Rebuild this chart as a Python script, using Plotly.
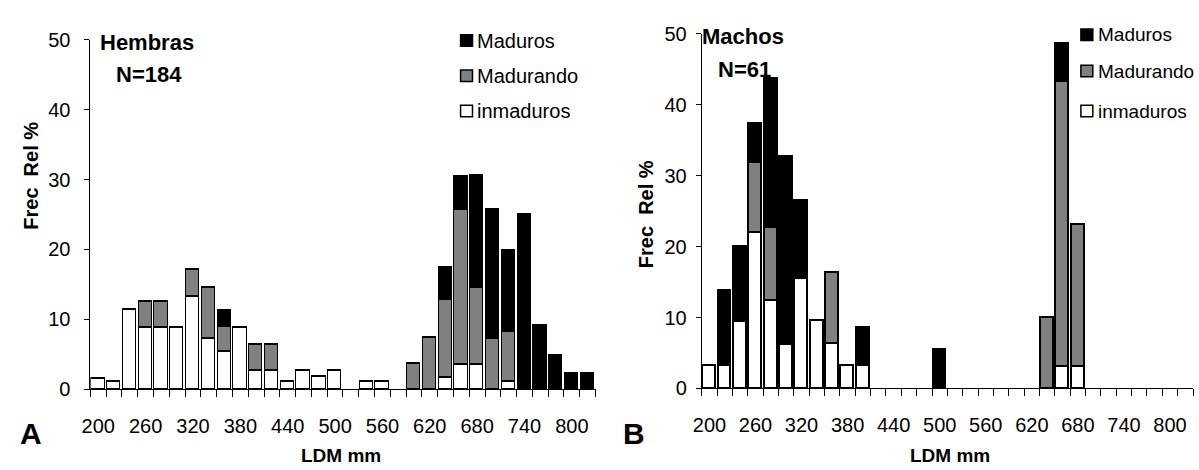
import plotly.graph_objects as go

# ---- data -------------------------------------------------------------
ldm_bins = [200, 220, 240, 260, 280, 300, 320, 340, 360, 380, 400, 420, 440, 460, 480, 500,
            520, 540, 560, 580, 600, 620, 640, 660, 680, 700, 720, 740, 760, 780, 800, 820]
tick_labels = [200, 260, 320, 380, 440, 500, 560, 620, 680, 740, 800]

# Hembras (N=184)
hem_inmaduros = [1.6, 1.1, 11.4, 8.9, 8.9, 8.9, 13.2, 7.2, 5.4, 8.9, 2.7, 2.7, 1.1, 2.7, 1.8, 2.7,
                 0, 1.1, 1.1, 0, 0, 0, 1.7, 3.6, 3.6, 0, 1.1, 0, 0, 0, 0, 0]
hem_madurando = [0, 0, 0, 3.6, 3.6, 0, 3.9, 7.3, 3.6, 0, 3.7, 3.7, 0, 0, 0, 0,
                 0, 0, 0, 0, 3.7, 7.4, 11.2, 22.1, 10.9, 7.2, 7.1, 0, 0, 0, 0, 0]
hem_maduros = [0, 0, 0, 0, 0, 0, 0, 0, 2.3, 0, 0, 0, 0, 0, 0, 0,
               0, 0, 0, 0, 0, 0, 4.5, 4.7, 16.1, 18.5, 11.7, 25.0, 9.1, 4.8, 2.3, 2.3]

# Machos (N=61)
mac_inmaduros = [3.2, 3.2, 9.4, 21.9, 12.4, 6.2, 15.5, 9.5, 6.3, 3.2, 3.2, 0, 0, 0, 0, 0,
                 0, 0, 0, 0, 0, 0, 0, 3.1, 3.1, 0, 0, 0, 0, 0, 0, 0]
mac_madurando = [0, 0, 0, 9.9, 10.2, 0, 0, 0, 10.0, 0, 0, 0, 0, 0, 0, 0,
                 0, 0, 0, 0, 0, 0, 10.0, 40.2, 20.0, 0, 0, 0, 0, 0, 0, 0]
mac_maduros = [0, 10.5, 10.6, 5.5, 21.1, 26.5, 10.9, 0, 0, 0, 5.3, 0, 0, 0, 0, 5.4,
               0, 0, 0, 0, 0, 0, 0, 5.3, 0, 0, 0, 0, 0, 0, 0, 0]

series_names = ["inmaduros", "Madurando", "Maduros"]
series_colors = ["#ffffff", "#808080", "#000000"]

W, H = 1199, 470
FONT = "Liberation Sans, Arial, sans-serif"


def px(x):
    return x / W


def py(y):
    return 1 - y / H


def nz(vals):
    return [v if v else None for v in vals]


fig = go.Figure()

panels = [
    ("x", "y", [hem_inmaduros, hem_madurando, hem_maduros]),
    ("x2", "y2", [mac_inmaduros, mac_madurando, mac_maduros]),
]
for xa, ya, data in panels:
    for name, color, vals in zip(series_names, series_colors, data):
        fig.add_trace(go.Bar(
            x=ldm_bins, y=nz(vals), name=name, xaxis=xa, yaxis=ya,
            width=16.8, marker=dict(color=color, line=dict(color="black", width=1.5)),
            showlegend=False, hoverinfo="skip",
        ))

bounds = [ldm_bins[0] - 10 + 20 * k for k in range(len(ldm_bins) + 1)]

xcommon = dict(
    range=[bounds[0], bounds[-1]], showline=True, linecolor="black", linewidth=1,
    tickmode="array", tickvals=tick_labels, ticktext=[str(t) for t in tick_labels],
    ticks="", ticklabelstandoff=19, showgrid=False, zeroline=False,
    tickfont=dict(family=FONT, size=20, color="black"),
    minor=dict(tickmode="array", tickvals=bounds, ticks="outside", ticklen=7,
               tickcolor="black", tickwidth=1, showgrid=False),
)
ycommon = dict(
    range=[0, 50], showline=True, linecolor="black", linewidth=1,
    tickmode="array", tickvals=[0, 10, 20, 30, 40, 50],
    ticks="outside", ticklen=5, tickcolor="black", showgrid=False, zeroline=False,
    tickfont=dict(family=FONT, size=20, color="black"),
)

fig.update_layout(
    width=W, height=H, margin=dict(l=0, r=0, t=0, b=0),
    paper_bgcolor="white", plot_bgcolor="white", barmode="stack", bargap=0,
    xaxis=dict(domain=[px(82), px(591)], anchor="y", **xcommon),
    yaxis=dict(domain=[py(397), py(30)], anchor="x", ticklabelstandoff=10, **ycommon),
    xaxis2=dict(domain=[px(698), px(1193)], anchor="y2", **xcommon),
    yaxis2=dict(domain=[py(396), py(24)], anchor="x2", ticklabelstandoff=5, **ycommon),
    font=dict(family=FONT, color="black"),
)

ann = []


def text(x, y, t, size=20, bold=False, angle=0, xanchor="center", yanchor="middle"):
    ann.append(dict(x=px(x), y=py(y), xref="paper", yref="paper", text=f"<b>{t}</b>" if bold else t,
                    showarrow=False, xanchor=xanchor, yanchor=yanchor, textangle=angle,
                    borderpad=0, font=dict(family=FONT, size=size, color="black")))


text(139, 33, "Hembras", 22, True)
text(141, 67, "N=184", 22, True)
text(740, 27, "Machos", 22, True)
text(741, 61, "N=61", 22, True)
text(22, 173, "Frec  Rel %", 20, True, -90)
text(642, 213, "Frec  Rel %", 20, True, -90)
text(335, 466, "LDM mm", 19, True)
text(948, 466, "LDM mm", 19, True)
text(22, 443, "A", 30, True)
text(630, 443, "B", 30, True)

shapes = []
legends = [
    (455, [31, 68, 105], 20),
    (1080, [25, 63, 105], 19),
]
for lx, rows, fs in legends:
    for (name, color), ry in zip(list(zip(series_names, series_colors))[::-1], rows):
        shapes.append(dict(type="rect", xref="paper", yref="paper",
                           x0=px(lx), x1=px(lx + 12), y0=py(ry + 6), y1=py(ry - 6),
                           fillcolor=color, line=dict(color="black", width=1.5)))
        text(lx + 16, ry, name, fs, False, 0, "left")

fig.update_layout(annotations=ann, shapes=shapes)
fig.write_html("out.html")
